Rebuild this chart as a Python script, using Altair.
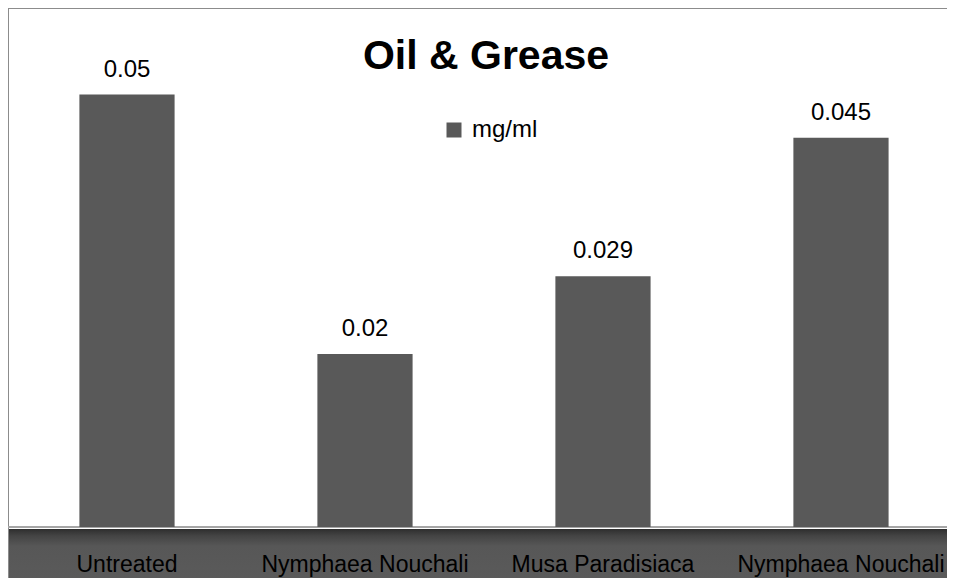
import altair as alt
import pandas as pd

# Data
idx = [1, 2, 3, 4]
categories = ["Untreated", "Nymphaea Nouchali", "Musa Paradisiaca", "Nymphaea Nouchali"]
values = [0.05, 0.02, 0.029, 0.045]
value_labels = ["0.05", "0.02", "0.029", "0.045"]
series = ["mg/ml"] * 4
title_text = "Oil & Grease"

df = pd.DataFrame({
    "idx": idx,
    "category": categories,
    "value": values,
    "label": value_labels,
    "series": series,
})

W, H = 939, 519
PB = 51
one = pd.DataFrame({"a": [0]})

x_enc = alt.X(
    "idx:O",
    scale=alt.Scale(paddingInner=0.6, paddingOuter=0.2727, align=0.55),
    axis=None,
)
y_scale = alt.Scale(domain=[0, 0.06])

floor = alt.Chart(one).mark_rect(
    color=alt.LinearGradient(
        gradient="linear",
        x1=0, x2=0, y1=0, y2=1,
        stops=[
            alt.GradientStop(offset=0, color="#2e2e2e"),
            alt.GradientStop(offset=0.14, color="#444444"),
            alt.GradientStop(offset=0.35, color="#575757"),
            alt.GradientStop(offset=1, color="#5a5a5a"),
        ],
    )
).encode(
    x=alt.value(1), x2=alt.value(W), y=alt.value(H + 2), y2=alt.value(H + PB)
)

frame_top = alt.Chart(one).mark_rule(color="#8c8c8c", strokeWidth=2).encode(
    x=alt.value(0), x2=alt.value(W), y=alt.value(0)
)
frame_left = alt.Chart(one).mark_rule(color="#8c8c8c", strokeWidth=2).encode(
    x=alt.value(0), y=alt.value(0), y2=alt.value(H + PB)
)
baseline = alt.Chart(one).mark_rule(color="#a6a6a6", strokeWidth=2).encode(
    x=alt.value(0), x2=alt.value(W), y=alt.value(H)
)

bars = alt.Chart(df).mark_bar().encode(
    x=x_enc,
    y=alt.Y("value:Q", scale=y_scale, axis=None),
    color=alt.Color(
        "series:N",
        scale=alt.Scale(range=["#595959"]),
        legend=alt.Legend(
            title=None,
            orient="none",
            legendX=434,
            legendY=110,
            symbolType="square",
            symbolSize=225,
            symbolStrokeWidth=0,
            labelFontSize=24,
            labelFont="Liberation Sans",
            labelColor="#000000",
            labelOffset=6,
            padding=0,
        ),
    ),
)

value_text = alt.Chart(df).mark_text(
    dy=-18, baseline="alphabetic", fontSize=24, font="Liberation Sans", color="#000000"
).encode(
    x=x_enc,
    y=alt.Y("value:Q", scale=y_scale, axis=None),
    text="label:N",
)

cat_text = alt.Chart(df).mark_text(
    baseline="alphabetic", fontSize=23,
    font="Liberation Sans",
    color="#000000",
).encode(
    x=x_enc,
    y=alt.value(H + 45),
    text="category:N",
)

title = alt.Chart(pd.DataFrame({"t": [title_text]})).mark_text(
    baseline="alphabetic", fontSize=41, fontWeight="bold",
    font="Liberation Sans",
    color="#000000", align="center",
).encode(
    x=alt.value(478), y=alt.value(61), text="t:N"
)

chart = alt.layer(
    floor, frame_top, frame_left, baseline, bars, value_text, cat_text, title
).properties(
    width=W,
    height=H,
    padding={"left": 0, "top": 0, "right": 0, "bottom": PB},
    autosize=alt.AutoSizeParams(type="none"),
).configure_view(
    stroke=None
)

chart.save("out.html", embed_options={"renderer": "svg", "actions": False})
